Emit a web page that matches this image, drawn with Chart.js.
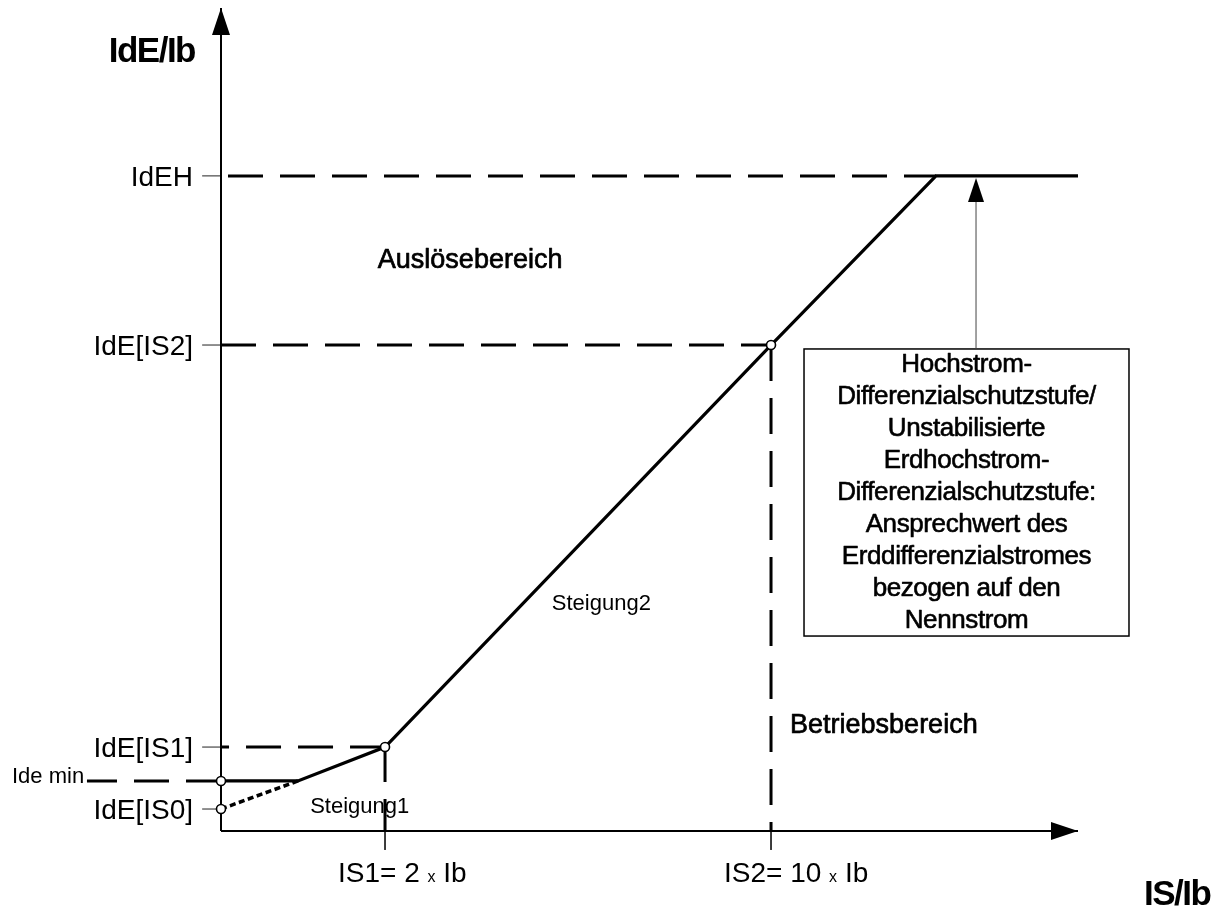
<!DOCTYPE html>
<html><head><meta charset="utf-8">
<script src="https://cdn.jsdelivr.net/npm/chart.js@4.4.1/dist/chart.umd.min.js"></script>
<style>html,body{margin:0;padding:0;background:#fff}#wrap{width:1227px;height:912px;position:relative}</style>
</head><body><div id="wrap"><canvas id="c"></canvas></div>
<script>
const FONT = '"Liberation Sans", Arial, Helvetica, sans-serif';

// Diagram values (schematic units, the diagram is not to scale)
const levelLabels = ['IdEH', 'IdE[IS2]', 'IdE[IS1]', 'IdE[IS0]'];
const levelValues = [79.6, 59.05, 10.2, 2.67];
const ideMinLabel = 'Ide min';
const ideMinValue = 6.08;
const breakLabels = [['IS1= 2 ', 'x', ' Ib'], ['IS2= 10 ', 'x', ' Ib']];
const breakValues = [19.14, 64.18];
const curveX = [0, 8.98, 19.14, 64.18, 83.43, 100];
const curveY = [6.08, 6.08, 10.2, 59.05, 79.6, 79.6];
const dottedX = [0, 8.98];
const dottedY = [2.67, 6.08];
const axisEnd = [100, 100];
const ideMinStart = -15.64;
const boxX = [68.03, 105.95];
const boxY = [23.69, 58.57];
const pickupArrowX = 88.1;
const boxLines = ['Hochstrom-', 'Differenzialschutzstufe/', 'Unstabilisierte', 'Erdhochstrom-',
  'Differenzialschutzstufe:', 'Ansprechwert des', 'Erddifferenzialstromes', 'bezogen auf den', 'Nennstrom'];
const axisTitles = ['IdE/Ib', 'IS/Ib'];
const regionLabels = ['Auslösebereich', 'Betriebsbereich', 'Steigung2', 'Steigung1'];

const pts = (xs, ys) => xs.map((x, i) => ({ x, y: ys[i] }));
const seg = (data, extra) => Object.assign({
  data, showLine: true, pointRadius: 0, borderColor: '#000', borderWidth: 3,
  clip: false, fill: false, tension: 0
}, extra || {});

const datasets = [];
// markers (drawn on top)
datasets.push({
  data: [{ x: 0, y: ideMinValue }, { x: 0, y: levelValues[3] },
         { x: breakValues[0], y: levelValues[2] }, { x: breakValues[1], y: levelValues[1] }],
  showLine: false, pointRadius: 4.5, pointBackgroundColor: '#fff', pointBorderColor: '#000',
  pointBorderWidth: 1.6, clip: false
});
// characteristic
datasets.push(seg(pts(curveX, curveY), { borderWidth: 3.2, borderJoinStyle: 'miter' }));
datasets.push(seg(pts(dottedX, dottedY), { borderDash: [6, 3.5], borderWidth: 3.5 }));
// dashed helper lines
const dash = [35, 17];
datasets.push(seg([{ x: 0, y: levelValues[0] }, { x: curveX[4], y: levelValues[0] }], { borderDash: dash, borderDashOffset: 45 }));
datasets.push(seg([{ x: 0, y: levelValues[1] }, { x: breakValues[1], y: levelValues[1] }], { borderDash: dash }));
datasets.push(seg([{ x: breakValues[0], y: levelValues[2] }, { x: 0, y: levelValues[2] }], { borderDash: dash }));
datasets.push(seg([{ x: 0, y: ideMinValue }, { x: ideMinStart, y: ideMinValue }], { borderDash: dash }));
datasets.push(seg([{ x: breakValues[0], y: levelValues[2] }, { x: breakValues[0], y: 0 }], { borderDash: dash }));
datasets.push(seg([{ x: breakValues[1], y: levelValues[1] }, { x: breakValues[1], y: 0 }], { borderDash: [36, 17] }));
// axes
datasets.push(seg([{ x: 0, y: 0 }, { x: 0, y: axisEnd[1] }], { borderWidth: 2 }));
datasets.push(seg([{ x: 0, y: 0 }, { x: axisEnd[0], y: 0 }], { borderWidth: 2 }));
// thin tick marks
levelValues.forEach(v => datasets.push(seg([{ x: -2.2, y: v }, { x: 0, y: v }], { borderWidth: 1, borderColor: '#222' })));
breakValues.forEach(v => datasets.push(seg([{ x: v, y: 0 }, { x: v, y: -2.3 }], { borderWidth: 1, borderColor: '#222' })));

function tri(ctx, tx, ty, dx, dy, len, half) {
  const bx = tx - dx * len, by = ty - dy * len;
  const px = -dy, py = dx;
  ctx.beginPath();
  ctx.moveTo(tx, ty);
  ctx.lineTo(bx + px * half, by + py * half);
  ctx.lineTo(bx - px * half, by - py * half);
  ctx.closePath();
  ctx.fillStyle = '#000';
  ctx.fill();
}

function heavyText(ctx, s, x, y, w) {
  ctx.fillText(s, x, y);
  ctx.lineWidth = w;
  ctx.strokeStyle = '#000';
  ctx.strokeText(s, x, y);
}

const overlay = {
  id: 'overlay',
  beforeDatasetsDraw(chart) {
    const ctx = chart.ctx, xs = chart.scales.x, ys = chart.scales.y;
    const X = v => xs.getPixelForValue(v), Y = v => ys.getPixelForValue(v);
    ctx.save();
    ctx.fillStyle = '#000';
    ctx.textBaseline = 'alphabetic';
    ctx.lineJoin = 'round';
    // level labels
    ctx.font = '28px ' + FONT;
    ctx.textAlign = 'right';
    levelLabels.forEach((t, i) => ctx.fillText(t, X(0) - 28, Y(levelValues[i]) + 10));
    ctx.font = '22px ' + FONT;
    ctx.textAlign = 'left';
    ctx.fillText(ideMinLabel, 12, Y(ideMinValue) + 2);
    // break labels
    breakLabels.forEach((parts, i) => {
      let x = X(breakValues[i]) - 47;
      const y = Y(0) + 51;
      parts.forEach((p, j) => {
        ctx.font = (j === 1 ? '16px ' : '28px ') + FONT;
        ctx.fillText(p, x, y);
        x += ctx.measureText(p).width;
      });
    });
    // region labels
    ctx.font = '27px ' + FONT;
    heavyText(ctx, regionLabels[0], X(18.3), Y(68.4), 0.7);
    heavyText(ctx, regionLabels[1], X(66.4), Y(11.9), 0.7);
    ctx.font = '22px ' + FONT;
    ctx.fillText(regionLabels[2], X(38.6), Y(26.9));
    ctx.fillText(regionLabels[3], X(10.4), Y(2.19));
    // axis titles
    ctx.font = 'bold 35px ' + FONT;
    try { ctx.letterSpacing = '-1.5px'; } catch (e) {}
    ctx.textAlign = 'right';
    ctx.fillText(axisTitles[0], X(0) - 26, 62);
    ctx.textAlign = 'left';
    ctx.fillText(axisTitles[1], X(axisEnd[0]) + 66, Y(0) + 74);
    ctx.restore();
  },
  afterDatasetsDraw(chart) {
    const ctx = chart.ctx, xs = chart.scales.x, ys = chart.scales.y;
    const X = v => xs.getPixelForValue(v), Y = v => ys.getPixelForValue(v);
    ctx.save();
    // axis arrowheads
    tri(ctx, X(0), Y(axisEnd[1]), 0, -1, 27, 9);
    tri(ctx, X(axisEnd[0]), Y(0), 1, 0, 27, 9);
    // box
    const l = X(boxX[0]), r = X(boxX[1]), t = Y(boxY[1]), b = Y(boxY[0]);
    ctx.fillStyle = '#fff';
    ctx.fillRect(l, t, r - l, b - t);
    ctx.strokeStyle = '#000';
    ctx.lineWidth = 1.5;
    ctx.strokeRect(l, t, r - l, b - t);
    // pick-up arrow
    const ax = X(pickupArrowX), tipY = Y(levelValues[0]) + 2;
    ctx.beginPath();
    ctx.moveTo(ax, t);
    ctx.lineTo(ax, tipY + 20);
    ctx.strokeStyle = '#444';
    ctx.lineWidth = 1;
    ctx.stroke();
    tri(ctx, ax, tipY, 0, -1, 24, 8);
    // box text
    ctx.fillStyle = '#000';
    ctx.font = '26px ' + FONT;
    ctx.textAlign = 'center';
    ctx.textBaseline = 'alphabetic';
    ctx.lineJoin = 'round';
    try { ctx.letterSpacing = '-0.4px'; } catch (e) {}
    const cx = (l + r) / 2;
    boxLines.forEach((s, i) => heavyText(ctx, s, cx, t + 23 + 32 * i, 0.6));
    ctx.restore();
  }
};

new Chart(document.getElementById('c'), {
  type: 'scatter',
  data: { datasets },
  options: {
    responsive: true, maintainAspectRatio: false, animation: false, events: [],
    layout: { padding: { left: 221, right: 149, top: 8, bottom: 81 } },
    scales: {
      x: { type: 'linear', min: 0, max: axisEnd[0], display: false },
      y: { type: 'linear', min: 0, max: axisEnd[1], display: false }
    },
    plugins: { legend: { display: false }, tooltip: { enabled: false } }
  },
  plugins: [overlay]
});
</script>
</body></html>
